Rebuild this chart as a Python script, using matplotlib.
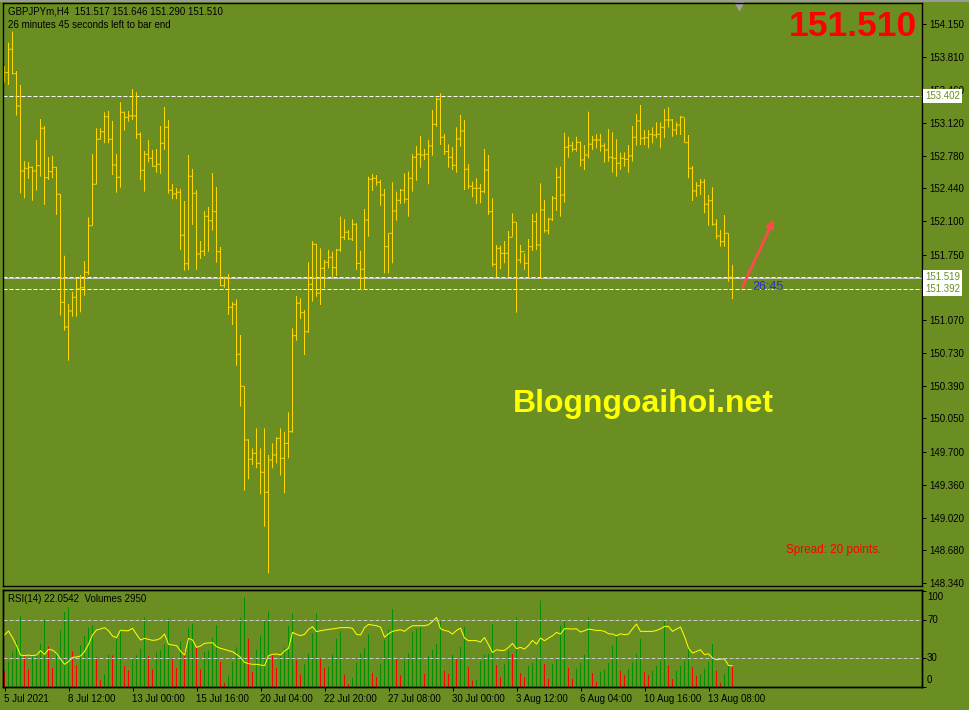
import numpy as np
import matplotlib.pyplot as plt
from matplotlib.patches import FancyArrowPatch, Rectangle

# GBPJPYm H4, values (one entry per bar)
highs = [153.713, 153.956, 154.070, 153.661, 153.516, 152.726, 152.715, 152.667, 152.944, 153.162,
         153.090, 152.767, 152.781, 152.664, 152.380, 151.741, 151.239, 151.367, 151.506, 151.541,
         151.686, 152.141, 152.799, 153.066, 153.066, 153.232, 153.246, 153.142, 152.799, 153.336,
         153.238, 153.246, 153.474, 153.440, 153.024, 152.830, 152.944, 152.840, 152.851, 153.090,
         153.287, 153.152, 152.487, 152.445, 152.435, 152.310, 152.788, 152.643, 152.424, 151.894,
         152.206, 152.248, 152.601, 152.456, 151.832, 151.523, 151.551, 151.260, 151.288, 150.917,
         150.384, 149.833, 149.739, 149.947, 149.739, 149.947, 149.670, 149.791, 149.854, 149.947,
         149.912, 150.114, 150.987, 151.323, 151.299, 151.177, 151.673, 151.894, 151.860, 151.818,
         151.697, 151.801, 151.783, 151.811, 152.147, 152.120, 152.009, 152.120, 152.078, 151.793,
         152.227, 152.563, 152.591, 152.580, 152.528, 152.435, 151.974, 152.505, 152.407, 152.435,
         152.598, 152.615, 152.796, 152.882, 152.986, 152.851, 152.944, 153.256, 153.384, 153.430,
         153.007, 152.899, 152.868, 153.076, 153.204, 153.152, 152.695, 152.511, 152.546, 152.487,
         152.851, 152.788, 152.338, 151.853, 151.845, 151.894, 151.998, 152.182, 152.089, 151.853,
         151.766, 151.915, 152.175, 152.188, 152.494, 152.320, 152.137, 152.362, 152.656, 152.667,
         153.020, 152.978, 152.926, 152.978, 152.926, 152.892, 153.238, 152.986, 153.003, 153.007,
         152.910, 153.058, 153.024, 152.951, 152.812, 152.816, 152.892, 153.090, 153.214, 153.308,
         153.048, 153.048, 153.076, 153.128, 153.128, 153.266, 153.284, 153.162, 153.128, 153.194,
         153.170, 152.996, 152.674, 152.505, 152.539, 152.536, 152.372, 152.453, 152.120, 152.009,
         152.164, 151.974, 151.646]
lows = [153.540, 153.516, 153.627, 153.197, 152.390, 152.338, 152.539, 152.313, 152.417, 152.563,
        152.269, 152.528, 152.546, 152.165, 151.118, 150.962, 150.650, 151.107, 151.107, 151.153,
        151.326, 151.541, 152.053, 152.484, 152.951, 152.910, 152.910, 152.580, 152.396, 152.448,
        153.041, 153.134, 153.152, 152.955, 152.528, 152.407, 152.712, 152.667, 152.604, 152.591,
        152.840, 152.386, 152.328, 152.328, 151.801, 151.586, 151.593, 152.061, 151.593, 151.707,
        151.738, 151.783, 152.001, 151.669, 151.426, 151.409, 151.125, 151.021, 150.598, 150.172,
        149.299, 149.417, 149.566, 149.532, 149.261, 148.924, 148.440, 149.532, 149.583, 149.455,
        149.272, 149.635, 149.902, 150.858, 151.083, 150.709, 150.941, 151.263, 151.315, 151.229,
        151.403, 151.610, 151.513, 151.530, 151.783, 151.905, 151.905, 151.894, 151.593, 151.385,
        151.385, 151.939, 152.414, 152.469, 152.261, 151.558, 151.558, 151.662, 152.105, 152.279,
        152.286, 152.147, 152.407, 152.521, 152.656, 152.736, 152.484, 152.781, 153.082, 152.892,
        152.788, 152.656, 152.632, 152.604, 152.875, 152.424, 152.435, 152.348, 152.279, 152.286,
        152.390, 152.165, 151.627, 151.513, 151.603, 151.662, 151.523, 151.939, 151.149, 151.662,
        151.593, 151.513, 151.790, 151.801, 151.499, 151.981, 151.964, 152.102, 152.206, 152.147,
        152.292, 152.760, 152.823, 152.823, 152.667, 152.632, 152.754, 152.840, 152.858, 152.823,
        152.708, 152.719, 152.604, 152.563, 152.632, 152.667, 152.604, 152.719, 152.885, 152.892,
        152.892, 152.858, 152.910, 152.962, 152.858, 152.962, 153.072, 152.978, 152.996, 152.996,
        152.916, 152.546, 152.310, 152.355, 152.372, 152.182, 152.053, 152.053, 151.912, 151.835,
        151.835, 151.471, 151.290]
closes = [153.644, 153.887, 153.633, 153.298, 152.622, 152.650, 152.660, 152.622, 152.677, 153.066,
          152.552, 152.615, 152.660, 152.380, 151.257, 151.000, 151.167, 151.309, 151.395, 151.409,
          151.569, 152.053, 152.484, 152.951, 153.030, 153.186, 152.951, 152.684, 152.556, 153.232,
          153.180, 153.194, 153.194, 153.003, 152.629, 152.795, 152.754, 152.671, 152.692, 152.910,
          153.076, 152.421, 152.383, 152.401, 151.954, 151.658, 152.567, 152.390, 151.759, 151.787,
          152.151, 152.105, 152.199, 151.783, 151.430, 151.513, 151.205, 151.236, 150.717, 150.384,
          149.826, 149.625, 149.687, 149.583, 149.490, 149.282, 149.618, 149.670, 149.843, 149.635,
          149.791, 149.912, 150.910, 151.247, 151.149, 150.951, 151.444, 151.860, 151.351, 151.610,
          151.673, 151.725, 151.617, 151.801, 151.933, 151.985, 151.915, 152.068, 151.662, 151.600,
          152.113, 152.536, 152.546, 152.504, 152.372, 151.835, 151.974, 152.206, 152.317, 152.421,
          152.328, 152.546, 152.764, 152.795, 152.788, 152.795, 152.882, 153.107, 153.367, 152.972,
          152.823, 152.764, 152.681, 152.955, 153.038, 152.640, 152.463, 152.442, 152.442, 152.407,
          152.632, 152.199, 151.652, 151.818, 151.766, 151.766, 151.933, 152.089, 151.697, 151.783,
          151.662, 151.835, 152.095, 151.853, 152.217, 152.001, 152.120, 152.338, 152.556, 152.372,
          152.868, 152.885, 152.848, 152.920, 152.736, 152.788, 152.900, 152.944, 152.944, 152.882,
          152.840, 152.764, 152.754, 152.702, 152.754, 152.743, 152.778, 152.972, 153.142, 152.962,
          152.968, 153.003, 152.996, 153.003, 153.076, 153.152, 153.152, 153.048, 153.100, 153.180,
          152.916, 152.650, 152.414, 152.469, 152.505, 152.276, 152.313, 152.068, 151.946, 151.887,
          151.974, 151.517, 151.510]
first_open = 153.644

volumes = [2208, 3542, 4922, 6394, 9752, 4370, 2438, 4370, 4600, 5980,
           9338, 5612, 2622, 4830, 7820, 10350, 10994, 4922, 2990, 5750,
           7038, 8188, 8510, 4140, 920, 1748, 4462, 4370, 6670, 8050,
           2898, 2300, 3818, 4370, 5290, 9614, 4278, 2438, 4738, 5106,
           5888, 9430, 4140, 2622, 6302, 4922, 8188, 8740, 5382, 2438,
           4830, 5060, 6762, 8510, 3450, 552, 1610, 3542, 5474, 9568,
           12374, 6670, 2070, 5152, 7130, 9108, 10442, 4508, 2622, 4370,
           5474, 8418, 10166, 3680, 1748, 3128, 4600, 7452, 10166, 3910,
           2622, 2760, 4508, 6670, 7728, 1702, 368, 1242, 3358, 4692,
           5428, 7268, 1932, 1380, 3174, 6532, 7912, 10764, 3910, 1610,
           3634, 4692, 7590, 8004, 8280, 1794, 4232, 5152, 5934, 9062,
           2254, 1794, 4462, 4002, 5520, 8280, 2760, 874, 1012, 3634,
           4462, 4554, 8694, 3036, 1380, 3174, 5014, 4554, 9660, 1932,
           1334, 2944, 3312, 4002, 11914, 3174, 1150, 3174, 4002, 8464,
           9154, 2622, 1150, 2530, 3312, 4462, 9660, 1932, 690, 2070,
           2392, 3312, 5704, 6992, 2254, 1610, 2484, 3450, 4554, 6624,
           2070, 1610, 2254, 2944, 3634, 9200, 2944, 1104, 2254, 2944,
           3634, 5474, 2760, 1564, 1702, 2530, 3450, 5934, 2254, 552,
           1794, 3082, 2950]

rsi = [54.3, 58.5, 51.5, 43.2, 33.4, 32.7, 33.4, 32.7, 33.4, 37.9,
       34.1, 39.3, 38.6, 35.2, 29.2, 23.7, 26.5, 31.0, 31.3, 32.4,
       36.9, 44.6, 54.3, 59.5, 60.6, 62.0, 58.8, 53.3, 51.5, 59.5,
       58.8, 58.8, 61.3, 55.0, 49.1, 50.8, 49.8, 48.7, 49.1, 50.8,
       55.3, 44.6, 43.9, 43.2, 37.6, 33.4, 50.8, 49.1, 41.4, 42.8,
       45.6, 45.9, 46.3, 42.1, 40.4, 39.3, 37.9, 36.9, 34.1, 31.0,
       25.8, 24.4, 23.7, 23.7, 23.0, 22.3, 32.7, 34.1, 34.5, 33.4,
       37.6, 40.4, 57.1, 55.0, 53.6, 55.0, 60.2, 63.0, 57.8, 58.8,
       59.5, 60.2, 60.6, 61.3, 62.0, 62.0, 62.0, 61.3, 55.0, 54.3,
       62.0, 65.4, 64.7, 64.0, 62.5, 52.1, 55.6, 58.1, 59.1, 59.8,
       58.1, 61.5, 64.0, 64.0, 64.0, 64.0, 65.0, 68.5, 72.7, 60.8,
       59.1, 58.1, 55.3, 59.1, 61.5, 51.1, 48.3, 48.7, 48.3, 46.9,
       51.8, 44.1, 36.1, 38.9, 38.2, 38.2, 41.4, 45.5, 40.0, 41.4,
       39.6, 43.4, 48.7, 44.8, 51.1, 48.3, 51.1, 53.5, 57.0, 55.3,
       60.8, 60.8, 60.5, 60.8, 57.4, 58.8, 60.5, 59.8, 59.1, 59.1,
       58.1, 55.6, 55.3, 53.5, 55.6, 54.6, 55.3, 60.8, 65.7, 58.1,
       58.1, 58.1, 58.1, 59.1, 60.8, 63.3, 63.3, 58.1, 60.5, 62.6,
       52.8, 40.7, 35.4, 37.2, 38.9, 33.7, 34.7, 30.2, 28.5, 29.2,
       29.2, 22.6, 22.05]

date_bars = [0, 16, 32, 48, 64, 80, 96, 112, 128, 144, 160, 176]
date_labels = ["5 Jul 2021", "8 Jul 12:00", "13 Jul 00:00", "15 Jul 16:00",
               "20 Jul 04:00", "22 Jul 20:00", "27 Jul 08:00", "30 Jul 00:00",
               "3 Aug 12:00", "6 Aug 04:00", "10 Aug 16:00", "13 Aug 08:00"]
# 151.410 sits under the level boxes on the reference, so it is left out
price_ticks = [154.150, 153.810, 153.460, 153.120, 152.780, 152.440, 152.100, 151.750,
               151.070, 150.730, 150.390, 150.050, 149.700, 149.360, 149.020,
               148.680, 148.340]
levels = [153.402, 151.519, 151.392]
bid = 151.510
rsi_levels = [70, 30]

W, H = 969, 710
BG = '#6B8E23'
BAR = '#FFD700'
FONT = 'Liberation Sans'
px = 72 / 100  # one pixel in points

fig = plt.figure(figsize=(W / 100, H / 100), dpi=100, facecolor=BG)
fig.patches.append(Rectangle((0, 1 - 2 / H), 1, 2 / H, transform=fig.transFigure,
                             facecolor='#9a9a9a', edgecolor='none'))

ax = fig.add_axes([3 / W, 1 - 586 / H, 919 / W, 583 / H], facecolor=BG)
rax = fig.add_axes([3 / W, 1 - 687 / H, 919 / W, 97 / H], facecolor=BG, sharex=ax)

x = np.arange(len(closes))
opens = [first_open] + closes[:-1]

# 4 px per bar, bar centres on pixel centres so 1 px strokes stay solid
ax.vlines(x, lows, highs, colors=BAR, linewidth=px, snap=False)
ax.hlines(closes, x, x + 0.5, colors=BAR, linewidth=px, snap=False)
ax.hlines(opens, x - 0.5, x, colors=BAR, linewidth=px, snap=False)

for lv in levels:
    ax.axhline(lv, color='white', linewidth=px, dashes=(4, 2), zorder=1)
ax.axhline(bid, color='#c8c8c8', linewidth=px, zorder=1)

ax.set_xlim(-0.375, 229.375)
ax.set_ylim(148.308, 154.368)
ax.yaxis.tick_right()
ax.set_yticks(price_ticks)
ax.set_yticklabels([f'{p:.3f}' for p in price_ticks], fontsize=7, family=FONT)
ax.tick_params(axis='y', direction='out', length=3, width=px, pad=2, colors='black')
ax.tick_params(axis='x', bottom=False, labelbottom=False)
for s in ax.spines.values():
    s.set_linewidth(1)
    s.set_color('black')

# boxes for the level labels on the price scale
for lv in levels:
    yf = ax.transData.transform((0, lv))[1] / H
    fig.text(925 / W, yf, f'{lv:.3f}', fontsize=7, family=FONT, color=BG, va='center',
             ha='left', zorder=5,
             bbox=dict(boxstyle='square,pad=0.2', facecolor='white', edgecolor='none'))

# RSI + volumes window
vax = rax.twinx()
vcol = ['#ff0000'] + ['#009000' if volumes[i] > volumes[i - 1] else '#ff0000'
                      for i in range(1, len(volumes))]
vax.vlines(x, 0, volumes, colors=vcol, linewidth=px, snap=False)
vax.set_ylim(0, 13386)
vax.set_yticks([])
rax.set_zorder(vax.get_zorder() + 1)
rax.patch.set_visible(False)
vax.set_facecolor(BG)

rax.plot(x, rsi, color='#FFFF00', linewidth=px)
for lv in rsi_levels:
    rax.axhline(lv, color='#c8c8c8', linewidth=px, dashes=(4, 2))
rax.set_ylim(0, 101.3)
rax.yaxis.tick_right()
rax.set_yticks([100, 70, 30, 0])
rax.set_yticklabels([])
rax.tick_params(axis='y', direction='out', length=3, width=px, colors='black')
for val, pos in [('100', 93.5), ('70', 70), ('30', 30), ('0', 7)]:
    rax.text(1 + 5 / 919, pos, val, transform=rax.get_yaxis_transform(), fontsize=7,
             family=FONT, va='center', ha='left', color='black')

rax.set_xticks(date_bars)
rax.set_xticklabels(date_labels, fontsize=7, family=FONT, ha='left')
rax.tick_params(axis='x', direction='out', length=3, width=px, pad=2, colors='black')
for s in list(rax.spines.values()) + list(vax.spines.values()):
    s.set_linewidth(1)
    s.set_color('black')

# texts
fig.text(8 / W, 1 - 12 / H, 'GBPJPYm,H4  151.517 151.646 151.290 151.510', fontsize=7,
         family=FONT, color='black', va='center')
fig.text(8 / W, 1 - 25 / H, '26 minutes 45 seconds left to bar end', fontsize=7,
         family=FONT, color='black', va='center')
fig.text(8 / W, 1 - 599 / H, 'RSI(14) 22.0542  Volumes 2950', fontsize=7,
         family=FONT, color='black', va='center')
fig.text(917 / W, 1 - 27 / H, '151.510', fontsize=25.5, family=FONT, fontweight='bold',
         color='#ff0000', ha='right', va='center')
fig.text(643 / W, 1 - 404 / H, 'Blogngoaihoi.net', fontsize=23, family=FONT,
         fontweight='bold', color='#FFFF00', ha='center', va='center')
fig.text(786 / W, 1 - 550 / H, 'Spread: 20 points.', fontsize=8.5, family=FONT,
         color='#ff0000', ha='left', va='center')
fig.text(752 / W, 1 - 287 / H, '26:45', fontsize=9, family=FONT, color='#2a2ad8',
         ha='left', va='center')

# hand-drawn arrow and chart shift marker
fig.patches.append(FancyArrowPatch((741 / W, 1 - 290 / H), (775 / W, 1 - 217 / H),
                                   transform=fig.transFigure, arrowstyle='-|>',
                                   mutation_scale=11, linewidth=2, color='#ff4a4a'))
ax.plot([len(closes) + 0.5], [0.995], marker='v', color='#a0a0a0', markersize=6,
        transform=ax.get_xaxis_transform(), clip_on=False)

fig.savefig('out.png', dpi=100, facecolor=BG)
